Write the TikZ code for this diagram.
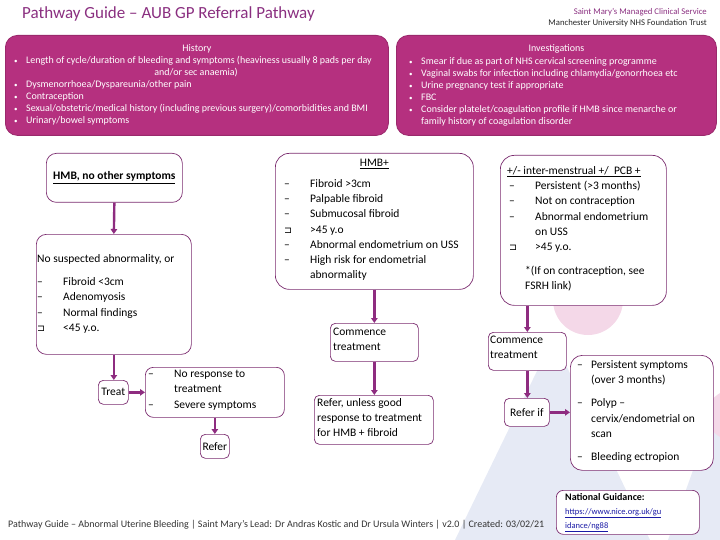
\documentclass[tikz,border=0pt]{standalone}
\usepackage{fontspec}
\setmainfont{Carlito}
\newfontfamily\symfont{DejaVu Sans}
\usetikzlibrary{arrows.meta}
\usepackage{xcolor}
\definecolor{magfill}{HTML}{B5307F}
\definecolor{plum}{HTML}{7B2C6F}
\definecolor{arrowc}{HTML}{8E2C80}
\definecolor{titlec}{HTML}{8A2F80}
\definecolor{wmpink}{HTML}{F4D8E8}
\definecolor{wmblue}{HTML}{E6EAF5}
\definecolor{linkc}{HTML}{1A1AA6}
\newcommand{\itm}[2]{\makebox[26pt][l]{#1}#2}
\newcommand{\hitm}[1]{\makebox[12pt][l]{\scriptsize•}#1}
\newcommand{\sqm}{{\symfont\fontsize{9.5}{9.5}\selectfont ⊐}}

\begin{document}
\begin{tikzpicture}[x=1pt,y=-1pt,
  hbox/.style={draw=magfill!85!black, fill=magfill, rounded corners=12pt, line width=0.8pt, anchor=north west},
  wbox/.style={draw=plum, fill=white, rounded corners=10pt, line width=0.7pt, anchor=north west},
  sbox/.style={draw=plum, fill=white, rounded corners=5pt, line width=0.7pt, anchor=north west},
  txt/.style={inner sep=0pt, align=left, anchor=north west, font=\fontsize{11.5}{15.3}\selectfont},
  htxt/.style={inner sep=0pt, align=left, anchor=north west, text=white, font=\fontsize{10}{12}\selectfont},
  arr/.style={draw=arrowc, line width=2.4pt, -{Triangle[length=5pt,width=6.5pt]}}]

\useasboundingbox (0,0) rectangle (720,540);

% watermark
\fill[wmblue] (455,540) -- (553,338) -- (650,540) -- cycle;
\fill[wmblue] (668,540) -- (720,395) -- (720,540) -- cycle;
\fill[wmpink] (588,300) circle (35);
\fill[wmpink] (732,415) circle (25);

% header
\node[inner sep=0pt, anchor=west, text=titlec, font=\fontsize{17}{20}\selectfont] (title) at (22,14) {Pathway Guide -- AUB GP Referral Pathway};
\node[inner sep=0pt, anchor=east, text=titlec, font=\fontsize{8.7}{10}\selectfont] (trust1) at (707,12) {Saint Mary's Managed Clinical Service};
\node[inner sep=0pt, anchor=east, text=black!85, font=\fontsize{8.7}{10}\selectfont] (trust2) at (707,23) {Manchester University NHS Foundation Trust};

% history and investigations
\node[hbox, minimum width=383pt, minimum height=100pt] (hist) at (5,35) {};
\node[inner sep=0pt, text=white, font=\fontsize{10}{12}\selectfont] (hist-h) at (hist.north |- 0,49) {History};
\node[htxt] (hist-t) at (14,56) {\hitm{Length of cycle/duration of bleeding and symptoms (heaviness usually 8 pads per day}\\[12pt]
  \hitm{Dysmenorrhoea/Dyspareunia/other pain}\\
  \hitm{Contraception}\\
  \hitm{Sexual/obstetric/medical history (including previous surgery)/comorbidities and BMI}\\
  \hitm{Urinary/bowel symptoms}};
\node[inner sep=0pt, text=white, font=\fontsize{10}{12}\selectfont] (hist-c) at (196,73) {and/or sec anaemia)};

\node[hbox, minimum width=320pt, minimum height=100pt] (inv) at (396,35) {};
\node[inner sep=0pt, text=white, font=\fontsize{10}{12}\selectfont] (inv-h) at (inv.north |- 0,49) {Investigations};
\node[htxt] (inv-t) at (409,57) {\hitm{Smear if due as part of NHS cervical screening programme}\\
  \hitm{Vaginal swabs for infection including chlamydia/gonorrhoea etc}\\
  \hitm{Urine pregnancy test if appropriate}\\
  \hitm{FBC}\\
  \hitm{Consider platelet/coagulation profile if HMB since menarche or}\\
  \hspace{12pt}family history of coagulation disorder};

% left branch
\node[wbox, minimum width=136pt, minimum height=49pt] (hmbno) at (46,153) {};
\node[inner sep=0pt, font=\fontsize{11.5}{12}\selectfont\bfseries] (hmbno-t) at (hmbno.center) {\underline{HMB, no other symptoms}};
\node[wbox, minimum width=155pt, minimum height=120pt] (nosusp) at (36,234) {};
\node[txt] (nosusp-t) at (37,254) {No suspected abnormality, or\\[8pt]
  \itm{--}{Fibroid <3cm}\\
  \itm{--}{Adenomyosis}\\
  \itm{--}{Normal findings}\\
  \itm{\sqm}{<45 y.o.}};
\node[sbox, minimum width=30pt, minimum height=24pt] (treat) at (98,380) {};
\node[inner sep=0pt, font=\fontsize{11.5}{12}\selectfont] (treat-t) at (treat.center) {Treat};
\node[wbox, rounded corners=8pt, minimum width=139pt, minimum height=50pt] (noresp) at (145,367) {};
\node[txt] (noresp-t) at (148,370) {\itm{--}{No response to}\\
  \itm{}{treatment}\\
  \itm{--}{Severe symptoms}};
\node[sbox, minimum width=29pt, minimum height=24pt] (refer) at (200,434) {};
\node[inner sep=0pt, font=\fontsize{11.5}{12}\selectfont] (refer-t) at (refer.center) {Refer};

% middle branch
\node[wbox, rounded corners=14pt, minimum width=198pt, minimum height=136pt] (hmbp) at (275,153) {};
\node[inner sep=0pt, font=\fontsize{11.5}{12}\selectfont] (hmbp-h) at (hmbp.north |- 0,164) {\underline{HMB+}};
\node[txt] (hmbp-t) at (284,179) {\itm{--}{Fibroid >3cm}\\
  \itm{--}{Palpable fibroid}\\
  \itm{--}{Submucosal fibroid}\\
  \itm{\sqm}{>45 y.o}\\
  \itm{--}{Abnormal endometrium on USS}\\
  \itm{--}{High risk for endometrial}\\
  \itm{}{abnormality}};
\node[sbox, minimum width=88pt, minimum height=38pt] (comm1) at (330,323) {};
\node[txt] (comm1-t) at (333,328) {Commence\\treatment};
\node[sbox, minimum width=119pt, minimum height=49pt] (refun) at (314,395) {};
\node[txt] (refun-t) at (317,398) {Refer, unless good\\response to treatment\\for HMB + fibroid};

% right branch
\node[wbox, rounded corners=14pt, minimum width=166pt, minimum height=150pt] (inter) at (500,155) {};
\node[txt] (inter-h) at (507,166) {\underline{+/- inter-menstrual +/~~PCB +}};
\node[txt] (inter-t) at (509,181) {\itm{--}{Persistent (>3 months)}\\
  \itm{--}{Not on contraception}\\
  \itm{--}{Abnormal endometrium}\\
  \itm{}{on USS}\\
  \itm{\sqm}{>45 y.o.}};
\node[txt] (inter-n) at (525,266) {*(If on contraception, see\\FSRH link)};
\node[sbox, minimum width=78pt, minimum height=38pt] (comm2) at (488,332) {};
\node[txt] (comm2-t) at (490,336) {Commence\\treatment};
\node[sbox, minimum width=45pt, minimum height=28pt] (refif) at (504,398) {};
\node[inner sep=0pt, font=\fontsize{11.5}{12}\selectfont] (refif-t) at (refif.center) {Refer if};
\node[wbox, rounded corners=12pt, minimum width=143pt, minimum height=115pt] (symp) at (570,355) {};
\node[txt] (symp-t) at (577,360) {\makebox[14pt][l]{--}Persistent symptoms\\
  \hspace{14pt}(over 3 months)\\[8pt]
  \makebox[14pt][l]{--}Polyp --\\
  \hspace{14pt}cervix/endometrial on\\
  \hspace{14pt}scan\\[8pt]
  \makebox[14pt][l]{--}Bleeding ectropion};

% footer
\node[inner sep=0pt, anchor=west, text=black!80, font=\fontsize{10}{12}\selectfont] (foot) at (8,525) {Pathway Guide -- Abnormal Uterine Bleeding | Saint Mary's Lead: Dr Andras Kostic and Dr Ursula Winters | v2.0 | Created: 03/02/21};
\node[sbox, rounded corners=7pt, minimum width=143pt, minimum height=44pt] (natg) at (556,490) {};
\node[inner sep=0pt, align=left, anchor=north west, font=\fontsize{8.5}{14}\selectfont] (natg-t) at (565,493) {\textbf{\fontsize{10}{14}\selectfont National Guidance:}\\
  \textcolor{linkc}{\underline{https://www.nice.org.uk/gu}}\\
  \textcolor{linkc}{\underline{idance/ng88}}};

% connectors
\draw[arr] (hmbno.south) -- (nosusp.north);
\draw[arr] (nosusp.south) -- (nosusp.south |- treat.north);
\draw[arr] (treat.east) -- (treat.east -| noresp.west);
\draw[arr] (noresp.south) -- (noresp.south |- refer.north);
\draw[arr] (hmbp.south) -- (hmbp.south |- comm1.north);
\draw[arr] (comm1.south) -- (comm1.south |- refun.north);
\draw[arr] (comm2.north |- inter.south) -- (comm2.north);
\draw[arr] (comm2.south) -- (comm2.south |- refif.north);
\draw[arr] (refif.east) -- (refif.east -| symp.west);
\end{tikzpicture}
\end{document}
